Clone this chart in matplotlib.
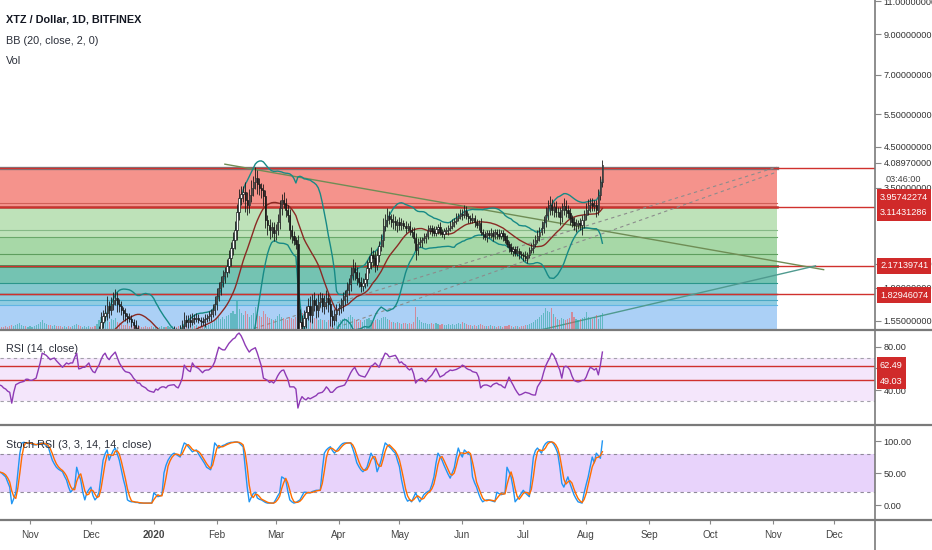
import numpy as np
import pandas as pd
import matplotlib
matplotlib.use("Agg")
import matplotlib.pyplot as plt
import matplotlib.dates as mdates
from matplotlib import font_manager as fm
from matplotlib.ticker import FixedLocator, NullLocator, FuncFormatter
from matplotlib.transforms import blended_transform_factory
from matplotlib.lines import Line2D

# narrow font if there is one, else Liberation Sans a bit smaller
_names = {f.name for f in fm.fontManager.ttflist}
if "Liberation Sans Narrow" in _names:
    plt.rcParams['font.family'] = ['Liberation Sans Narrow', 'DejaVu Sans']
    FS_AX, FS_TXT, FS_DATE = 7.5, 8.5, 8
else:
    plt.rcParams['font.family'] = ['Liberation Sans', 'DejaVu Sans']
    FS_AX, FS_TXT, FS_DATE = 6.6, 7.8, 7.2

# -------------------------------
# data (daily, starting 2019-10-17)
# -------------------------------
start = "2019-10-17"

close = [
    1.00, 0.995, 0.985, 0.977, 0.965, 0.953, 0.94, 0.977, 1.013, 1.051,
    1.11, 1.125, 1.13, 1.12, 1.14, 1.155, 1.16, 1.175, 1.19, 1.22,
    1.265, 1.31, 1.325, 1.34, 1.325, 1.31, 1.318, 1.34, 1.325, 1.31,
    1.30, 1.285, 1.30, 1.305, 1.30, 1.29, 1.30, 1.325, 1.37, 1.31,
    1.305, 1.318, 1.325, 1.34, 1.355, 1.325, 1.318, 1.31, 1.365, 1.43,
    1.54, 1.595, 1.625, 1.70, 1.655, 1.72, 1.76, 1.78, 1.72, 1.70,
    1.655, 1.625, 1.595, 1.58, 1.57, 1.54, 1.51, 1.48, 1.445, 1.43,
    1.41, 1.394, 1.387, 1.37, 1.365, 1.35, 1.355, 1.38, 1.37, 1.387,
    1.394, 1.41, 1.40, 1.42, 1.43, 1.44, 1.455, 1.44, 1.43, 1.464,
    1.50, 1.557, 1.54, 1.557, 1.54, 1.58, 1.57, 1.58, 1.557, 1.55,
    1.54, 1.57, 1.58, 1.595, 1.615, 1.655, 1.72, 1.80, 1.895, 1.965,
    2.04, 2.095, 2.17, 2.28, 2.42, 2.54, 2.70, 3.02, 3.29, 3.37,
    3.415, 3.25, 3.15, 3.35, 3.50, 3.63, 3.72, 3.58, 3.50, 3.456,
    3.33, 2.875, 2.79, 2.70, 2.753, 2.655, 2.70, 2.84, 3.095, 3.25,
    3.19, 3.06, 2.965, 2.70, 2.607, 2.54, 2.48, 1.34, 1.54, 1.50,
    1.58, 1.635, 1.70, 1.605, 1.76, 1.71, 1.655, 1.74, 1.78, 1.70,
    1.74, 1.78, 1.72, 1.595, 1.557, 1.615, 1.655, 1.676, 1.71, 1.76,
    1.80, 1.87, 1.94, 2.05, 2.14, 2.095, 2.015, 1.965, 1.92, 1.95,
    2.00, 2.14, 2.22, 2.32, 2.28, 2.18, 2.32, 2.455, 2.54, 2.77,
    2.875, 2.947, 2.89, 2.84, 2.86, 2.79, 2.84, 2.79, 2.82, 2.77,
    2.74, 2.77, 2.70, 2.67, 2.575, 2.39, 2.48, 2.51, 2.54, 2.575,
    2.607, 2.70, 2.74, 2.685, 2.655, 2.72, 2.753, 2.67, 2.64, 2.685,
    2.70, 2.74, 2.77, 2.84, 2.86, 2.91, 2.947, 2.98, 2.965, 3.04,
    2.947, 2.91, 2.875, 2.91, 2.84, 2.79, 2.82, 2.67, 2.64, 2.59,
    2.655, 2.62, 2.655, 2.607, 2.67, 2.64, 2.607, 2.655, 2.607, 2.54,
    2.48, 2.43, 2.375, 2.405, 2.35, 2.375, 2.335, 2.32, 2.306, 2.28,
    2.32, 2.39, 2.42, 2.48, 2.54, 2.607, 2.67, 2.74, 2.84, 2.965,
    3.095, 3.15, 3.06, 3.11, 3.02, 3.02, 2.93, 3.06, 3.13, 3.06,
    3.00, 2.91, 2.84, 2.79, 2.805, 2.82, 2.79, 2.875, 2.965, 3.06,
    3.15, 3.19, 3.13, 3.15, 3.06, 3.35, 3.63, 4.03,
]

# wick size above / below the body, in percent
wick_up = [
    2, 3, 2, 2, 3, 2, 4, 3, 3, 4, 5, 3, 2, 3, 2, 2, 3, 2, 3, 4,
    5, 6, 4, 3, 3, 2, 3, 4, 3, 2, 2, 3, 2, 3, 2, 2, 3, 4, 5, 3,
    2, 3, 2, 3, 3, 2, 2, 3, 4, 5, 6, 4, 5, 6, 3, 4, 5, 6, 4, 3,
    3, 2, 3, 2, 3, 2, 2, 3, 2, 2, 2, 2, 3, 2, 2, 3, 2, 3, 2, 2,
    3, 2, 2, 3, 2, 2, 3, 2, 2, 3, 4, 5, 3, 3, 4, 3, 2, 3, 2, 2,
    2, 3, 2, 3, 3, 4, 5, 5, 4, 4, 4, 3, 4, 5, 4, 5, 6, 5, 6, 5,
    4, 6, 5, 4, 5, 4, 7, 5, 4, 3, 4, 4, 3, 4, 3, 3, 4, 5, 5, 4,
    5, 3, 3, 4, 3, 3, 2, 6, 8, 4, 5, 4, 5, 6, 4, 5, 4, 5, 4, 3,
    4, 5, 3, 3, 4, 3, 4, 3, 4, 5, 4, 5, 4, 5, 6, 4, 3, 4, 3, 3,
    4, 5, 4, 5, 3, 4, 4, 3, 4, 5, 4, 5, 3, 3, 4, 3, 2, 3, 3, 2,
    3, 2, 3, 2, 3, 3, 4, 3, 2, 3, 2, 3, 2, 2, 3, 2, 2, 3, 2, 2,
    2, 2, 3, 2, 2, 3, 2, 3, 3, 4, 3, 2, 2, 3, 2, 2, 2, 3, 2, 2,
    2, 2, 3, 2, 2, 2, 3, 2, 2, 2, 3, 2, 3, 2, 2, 3, 2, 2, 2, 3,
    2, 2, 3, 3, 3, 4, 3, 4, 4, 5, 5, 6, 4, 3, 4, 3, 3, 4, 5, 4,
    3, 3, 2, 3, 3, 2, 3, 3, 3, 4, 4, 3, 3, 3, 3, 4, 4, 3,
]
wick_dn = [
    2, 2, 3, 2, 3, 3, 4, 2, 3, 2, 3, 3, 2, 3, 2, 3, 2, 2, 3, 3,
    3, 3, 4, 3, 2, 3, 3, 2, 3, 3, 3, 2, 3, 2, 3, 2, 3, 2, 3, 6,
    3, 2, 3, 2, 2, 3, 2, 3, 2, 3, 3, 4, 3, 4, 5, 3, 4, 3, 5, 4,
    3, 4, 3, 3, 2, 3, 3, 2, 3, 2, 3, 2, 2, 3, 2, 2, 3, 2, 2, 3,
    2, 3, 2, 2, 3, 2, 2, 3, 2, 2, 3, 2, 3, 4, 3, 2, 3, 2, 2, 3,
    2, 3, 2, 2, 3, 2, 3, 4, 3, 4, 3, 4, 3, 4, 5, 4, 5, 6, 5, 4,
    5, 7, 6, 5, 4, 5, 4, 6, 4, 5, 6, 5, 6, 5, 4, 5, 4, 3, 4, 4,
    3, 4, 4, 5, 4, 3, 3, 12, 8, 6, 5, 6, 5, 4, 5, 4, 5, 4, 3, 4,
    5, 4, 5, 6, 4, 3, 4, 3, 3, 4, 3, 4, 3, 4, 3, 5, 4, 3, 4, 3,
    3, 4, 3, 4, 5, 4, 3, 4, 3, 4, 3, 4, 3, 3, 4, 3, 4, 3, 3, 2,
    3, 2, 3, 3, 3, 6, 3, 2, 3, 2, 3, 2, 2, 3, 2, 2, 3, 2, 2, 3,
    2, 3, 2, 2, 3, 2, 2, 2, 3, 2, 2, 3, 2, 2, 3, 2, 3, 2, 3, 2,
    3, 2, 2, 3, 2, 3, 2, 2, 3, 2, 2, 3, 2, 3, 2, 2, 3, 2, 3, 2,
    3, 2, 2, 3, 2, 2, 3, 2, 3, 3, 3, 4, 3, 4, 3, 3, 5, 3, 3, 4,
    3, 4, 3, 3, 4, 3, 3, 6, 5, 3, 3, 4, 3, 3, 4, 3, 3, 3,
]

volume = [
    4, 3, 3, 4, 3, 4, 5, 4, 5, 6, 7, 5, 4, 4, 3, 4, 3, 4, 5, 6,
    8, 9, 7, 6, 5, 5, 4, 5, 4, 4, 4, 3, 4, 3, 4, 3, 4, 5, 6, 5,
    4, 3, 4, 3, 4, 3, 3, 4, 6, 9, 12, 10, 20, 9, 8, 10, 9, 11, 8, 7,
    6, 5, 5, 6, 4, 5, 4, 4, 3, 4, 3, 3, 4, 3, 3, 4, 3, 4, 3, 3,
    4, 3, 3, 4, 3, 4, 3, 3, 4, 5, 6, 7, 5, 5, 6, 5, 4, 5, 4, 4,
    4, 5, 4, 5, 6, 7, 9, 11, 12, 10, 12, 10, 13, 14, 16, 18, 15, 27, 20, 16,
    14, 18, 15, 12, 14, 16, 22, 15, 13, 12, 18, 15, 12, 11, 10, 9, 10, 13, 15, 12,
    11, 10, 9, 12, 11, 10, 12, 28, 22, 16, 15, 12, 13, 14, 10, 11, 10, 9, 10, 9,
    9, 8, 9, 10, 9, 8, 9, 8, 9, 10, 11, 10, 12, 14, 12, 10, 9, 8, 9, 8,
    9, 10, 11, 9, 8, 9, 10, 9, 11, 12, 12, 10, 9, 8, 8, 7, 8, 7, 6, 7,
    7, 6, 7, 6, 8, 22, 12, 9, 8, 7, 7, 6, 6, 7, 6, 7, 6, 5, 6, 5,
    5, 6, 5, 6, 5, 6, 7, 6, 8, 7, 6, 5, 5, 4, 5, 4, 5, 6, 5, 4,
    4, 4, 5, 4, 4, 3, 4, 4, 3, 4, 4, 5, 4, 3, 4, 4, 3, 4, 4, 5,
    5, 6, 7, 8, 9, 10, 12, 14, 16, 21, 18, 17, 21, 15, 12, 10, 9, 11, 10, 9,
    10, 11, 17, 12, 10, 9, 10, 11, 12, 17, 12, 11, 10, 12, 14, 10, 14, 16,
]

rsi = [
    44.7, 44, 42, 41, 39, 38, 28, 38, 45, 46,
    47, 47.5, 48, 50, 50, 49, 49, 50, 51, 58,
    65, 74, 73, 72, 70, 68, 69, 69.5, 67, 65,
    63, 61, 63, 65, 64, 65, 65, 70, 74, 59.5,
    60, 61, 61, 63, 65, 60, 57, 56, 60, 63,
    68, 72, 74, 70, 68, 71, 73, 75, 70, 65,
    62, 59, 57, 56.5, 56, 54, 51, 49, 46.5, 46.5,
    44, 43, 42, 40, 39, 38.5, 38, 41, 40, 42,
    43, 43, 42, 44, 44.5, 44.7, 45, 43, 42, 46,
    51, 63, 60, 58, 57, 65, 62, 61, 60, 58,
    56, 58, 58.5, 58.5, 60, 62, 66, 73, 79.5, 78,
    77, 77, 80, 83, 85, 87, 88, 91, 92.5, 90,
    86, 81.5, 78, 75, 77, 78, 79, 74, 68, 62,
    51, 50, 49, 47, 48, 46.5, 49, 53, 56, 58,
    58.5, 54, 50, 43, 43, 43, 41, 23.5, 30, 34,
    32, 31, 33, 32, 33, 34, 35, 37, 37.5, 38,
    40, 43, 41, 38, 38, 40, 42, 43, 43.5, 44,
    44.7, 48, 52, 56, 59, 61, 57, 54, 53, 52.5,
    52, 55, 58.5, 62, 63, 65, 63, 61, 66, 70,
    74, 73, 70.5, 71, 71.5, 72, 69, 65, 66, 64,
    63, 60, 58.5, 60, 55, 46.5, 49, 50, 51, 49,
    47.5, 50, 52, 54, 57, 60, 56, 52, 53, 54,
    56, 57, 58.5, 58, 58.5, 59, 60, 61, 63, 62,
    60, 59, 58.5, 57, 56.5, 56, 52, 42, 44, 44.7,
    44.7, 44, 43, 45, 46, 46.5, 45, 44.7, 43, 42,
    47, 52, 48, 44.7, 41, 38, 35.5, 36, 37, 38,
    37.5, 37, 36, 35.5, 35.5, 43, 46, 49, 56, 62,
    66, 69.5, 74, 72, 68, 63, 58.5, 51, 61, 62,
    61, 58.5, 53, 49, 48, 47.5, 48, 49, 49, 52,
    57, 61, 60, 58.5, 60, 54, 63, 75,
]

stoch_k = [
    51.5, 50, 47, 44, 36, 28, 2, 10, 19, 50,
    81, 97, 98, 97, 96, 97, 95, 94, 94, 96,
    97, 97, 95, 93, 91, 80, 70, 64, 59, 56,
    54, 52, 45, 39, 28, 20, 24, 28, 59, 48,
    39, 20, 8, 19, 24, 28, 15, 8, 12, 20,
    45, 70, 80, 86, 70, 78, 85, 89, 80, 70,
    55, 40, 28, 8, 6, 5, 5, 4, 4, 3,
    3, 3, 3, 3, 3, 3, 19, 16, 13, 14,
    16, 50, 62, 70, 75, 79, 81, 79, 77, 75,
    88, 97, 95, 91, 87, 83, 85, 86, 80, 75,
    70, 65, 59, 57, 55, 75, 97, 93, 89, 91,
    93, 94, 96, 97, 98, 98, 98.5, 98.5, 97, 94,
    91, 60, 28, 5, 12, 18, 20, 11, 9, 8,
    6, 4, 3, 3, 3, 3, 8, 14, 19, 44,
    42, 39, 22, 8, 5, 3, 4, 6, 8, 14,
    20, 20, 19, 19, 21, 22, 23, 23, 23, 55,
    81, 86, 89, 91, 85, 81, 85, 89, 93, 96,
    97, 97, 97, 97, 88, 78, 66, 60, 55, 52,
    55, 59, 70, 81, 75, 70, 52, 60, 70, 85,
    97, 94, 91, 88, 84, 81, 70, 60, 40, 25,
    12, 6, 8, 5, 12, 19, 12, 5, 10, 16,
    19, 21, 23, 32, 44, 65, 81, 76, 70, 62,
    55, 48, 42, 50, 58, 75, 89, 80, 75, 86,
    83, 80, 78, 44, 35, 28, 18, 10, 5, 7,
    8, 8, 7, 6, 5, 20, 18, 16, 17, 19,
    59, 52, 44, 27, 5, 9, 13, 18, 23, 19,
    16, 13, 45, 75, 85, 89, 85, 81, 91, 96,
    98.5, 99, 98.5, 95, 89, 81, 60, 34, 28, 36,
    44, 34, 25, 16, 10, 5, 4, 3, 19, 32,
    44, 60, 75, 66, 81, 77, 73, 100,
]

# fib retracement zones (price boundaries, top to bottom) and their fills
fib_edges = [3.95742274, 3.11431286, 2.59, 2.17139741, 1.95, 1.82946074, 1.71, 1.30]
fib_fills = ["#f5938c", "#bee2b9", "#a7d8a7", "#74c3b2", "#85c8ce", "#90cce1", "#abd0f6"]
fib_lines = [3.95742274, 3.19, 3.11431286, 2.70, 2.59, 2.33, 2.17139741, 1.95,
             1.82946074, 1.76, 1.71]
fib_line_colors = ["#7a7a80", "#cf5f58", "#b0413a", "#86b986", "#6aa86a", "#5e9e5e",
                   "#3d8a58", "#2b968a", "#4e5a5e", "#4aa8c4", "#62b5e4"]
fib_line_widths = [2.4, 0.8, 1.8, 0.8, 0.8, 0.8, 2.0, 0.8, 1.0, 0.8, 0.8]
fib_span = ["2019-09-01", "2020-11-03"]

# horizontal red levels
levels = [3.95742274, 3.11431286, 2.17139741, 1.82946074]
rsi_levels = [62.49, 49.03]

# trend lines: (date, price) pairs
trend_down = [("2020-02-05", 4.05), ("2020-11-26", 2.12)]
trend_up = [("2020-06-19", 1.38), ("2020-11-22", 2.17)]
fib_diag_a = [("2020-02-07", 1.41), ("2020-11-03", 3.98)]
fib_diag_b = [("2020-03-19", 1.41), ("2020-11-03", 3.86)]

price_ticks = [11.0, 9.0, 7.0, 5.5, 4.5, 4.0897, 3.5, 2.2, 1.9, 1.55]

# -------------------------------
# derived series
# -------------------------------
dates = pd.date_range(start, periods=len(close), freq="D")
x = mdates.date2num(dates)
c = np.array(close)
o = np.r_[c[0], c[:-1]]
hi = np.maximum(o, c) * (1 + np.array(wick_up) / 100)
lo = np.minimum(o, c) * (1 - np.array(wick_dn) / 100)
up = c >= o

s = pd.Series(c)
basis = s.rolling(20).mean()
dev = s.rolling(20).std(ddof=0)
bb_up = basis + 2 * dev
bb_lo = basis - 2 * dev
stoch_d = pd.Series(stoch_k).rolling(3, min_periods=1).mean()

# -------------------------------
# figure layout (pixel boxes)
# -------------------------------
W, H = 932, 550
fig = plt.figure(figsize=(W / 100, H / 100), dpi=100)


def box(l, t, r, b):
    return [l / W, 1 - b / H, (r - l) / W, (b - t) / H]


ax = fig.add_axes(box(0, 0, 875, 330))
ax_rsi = fig.add_axes(box(0, 330, 875, 425), sharex=ax)
ax_st = fig.add_axes(box(0, 425, 875, 520), sharex=ax)

tick_col = "#333333"
for a in (ax, ax_rsi, ax_st):
    for sp in a.spines.values():
        sp.set_visible(False)
    a.yaxis.tick_right()
    a.tick_params(axis="y", direction="out", length=4, color="#888888",
                  labelsize=FS_AX, labelcolor=tick_col, pad=2)
    a.tick_params(axis="x", length=0, labelbottom=False)

# --- main price panel
ax.set_yscale("log")
fz0, fz1 = mdates.datestr2num(fib_span[0]), mdates.datestr2num(fib_span[1])
for top, bot, col in zip(fib_edges[:-1], fib_edges[1:], fib_fills):
    ax.fill_between([fz0, fz1], bot, top, color=col, lw=0, zorder=0.5)
for p, col, lw in zip(fib_lines, fib_line_colors, fib_line_widths):
    ax.plot([fz0, fz1], [p, p], color=col, lw=lw, zorder=0.8)
for p in levels:
    ax.axhline(p, color="#d0312d", lw=1.0, zorder=1.0)


def seg(pts, **kw):
    xs = [mdates.datestr2num(d) for d, _ in pts]
    ys = [v for _, v in pts]
    ax.plot(xs, ys, **kw)


seg(fib_diag_a, color="#8c8c8c", lw=0.8, ls=(0, (3, 3)), zorder=1.2)
seg(fib_diag_b, color="#8c8c8c", lw=0.8, ls=(0, (3, 3)), zorder=1.2)
seg(trend_down, color="#6f8d55", lw=1.0, zorder=1.3)
seg(trend_up, color="#4f9a8f", lw=1.0, zorder=1.3)

# volume at the foot of the price panel
vt = blended_transform_factory(ax.transData, ax.transAxes)
vol = np.array(volume, dtype=float)
vcol = np.where(up, "#26a69a", "#ef5350")
ax.bar(x, vol / vol.max() * 0.09, width=0.55, bottom=0, color=vcol, alpha=0.55,
       lw=0, transform=vt, zorder=1.5)

# bollinger bands
ax.plot(x, bb_up, color="#178a86", lw=1.0, zorder=2)
ax.plot(x, bb_lo, color="#178a86", lw=1.0, zorder=2)
ax.plot(x, basis, color="#8a2a24", lw=1.0, zorder=2)

# candles
ax.vlines(x, lo, hi, color="#1a1a1a", lw=0.6, zorder=3)
ax.bar(x, np.abs(c - o), bottom=np.minimum(o, c), width=0.62,
       color=np.where(up, "#ffffff", "#1a1a1a"), edgecolor="#1a1a1a", lw=0.5, zorder=4)

ax.set_ylim(1.464, 11.09)
ax.yaxis.set_major_locator(FixedLocator(price_ticks))
ax.yaxis.set_minor_locator(NullLocator())
ax.yaxis.set_major_formatter(FuncFormatter(lambda v, _: f"{v:.8f}"))
ax.yaxis.set_minor_formatter(FuncFormatter(lambda v, _: ""))

fig.text(6 / W, 1 - 20 / H, "XTZ / Dollar, 1D, BITFINEX", fontsize=FS_TXT,
         fontweight="bold", color="#131722", va="center")
fig.text(6 / W, 1 - 41 / H, "BB (20, close, 2, 0)", fontsize=FS_TXT, color="#2a2e39", va="center")
fig.text(6 / W, 1 - 61 / H, "Vol", fontsize=FS_TXT, color="#2a2e39", va="center")
fig.text(921 / W, 1 - 180 / H, "03:46:00", fontsize=FS_AX, color="#444444",
         ha="right", va="center")

# --- RSI panel
ax_rsi.axhspan(30, 70, color="#f4e6fb", lw=0, zorder=0)
for v in (70, 30):
    ax_rsi.axhline(v, color="#a3a0aa", lw=0.8, ls=(0, (3, 3)), zorder=0.5)
for v in rsi_levels:
    ax_rsi.axhline(v, color="#d0312d", lw=1.0, zorder=1)
ax_rsi.plot(x, rsi, color="#8e3bb5", lw=1.0, zorder=2)
ax_rsi.set_ylim(7.9, 95.3)
ax_rsi.yaxis.set_major_locator(FixedLocator([80, 60, 40]))
ax_rsi.yaxis.set_major_formatter(FuncFormatter(lambda v, _: f"{v:.2f}"))
fig.text(6 / W, 1 - 349 / H, "RSI (14, close)", fontsize=FS_TXT, color="#2a2e39", va="center")

# --- Stoch RSI panel
ax_st.axhspan(20, 80, color="#e8d3fb", lw=0, zorder=0)
for v in (80, 20):
    ax_st.axhline(v, color="#8f8a99", lw=0.8, ls=(0, (3, 3)), zorder=0.5)
ax_st.plot(x, stoch_k, color="#2196f3", lw=1.0, zorder=2)
ax_st.plot(x, stoch_d, color="#ff6d00", lw=1.0, zorder=2)
ax_st.set_ylim(-23.4, 125)
ax_st.yaxis.set_major_locator(FixedLocator([100, 50, 0]))
ax_st.yaxis.set_major_formatter(FuncFormatter(lambda v, _: f"{v:.2f}"))
fig.text(6 / W, 1 - 445 / H, "Stoch RSI (3, 3, 14, 14, close)", fontsize=FS_TXT,
         color="#2a2e39", va="center")

# time axis
x0 = x[0]
ax.set_xlim(x0 + 0.22, x0 + 431.3)
months = pd.date_range("2019-11-01", "2020-12-01", freq="MS")
mlabels = ["2020" if m.month == 1 else m.strftime("%b") for m in months]
ax_st.set_xticks(mdates.date2num(months))
ax_st.set_xticklabels(mlabels)
ax_st.tick_params(axis="x", length=3, color="#888888", labelbottom=True,
                  labelsize=FS_DATE, labelcolor="#444444", pad=4, direction="out")
for t in ax_st.get_xticklabels():
    if t.get_text() == "2020":
        t.set_fontweight("bold")

# red value boxes on the scales (drawn over the tick labels they hide)
for p, yc in zip(levels, [197, 213, 266, 295]):
    fig.text(880 / W, 1 - yc / H, f"{p:.8f}", fontsize=FS_AX, color="white", va="center",
             bbox=dict(boxstyle="square,pad=0.35", fc="#d02a2a", ec="none"), zorder=5)
for v, yc in zip(rsi_levels, [365, 381]):
    fig.text(880 / W, 1 - yc / H, f"{v:.2f}", fontsize=FS_AX, color="white", va="center",
             bbox=dict(boxstyle="square,pad=0.35", fc="#d02a2a", ec="none"), zorder=5)

# separators and price-scale border
for yy in (330, 425, 520):
    fig.add_artist(Line2D([0, 1], [1 - yy / H] * 2, color="#7a7a7a", lw=1.6))
fig.add_artist(Line2D([875 / W] * 2, [0, 1], color="#7a7a7a", lw=1.2))

fig.savefig("out.png", dpi=100)
